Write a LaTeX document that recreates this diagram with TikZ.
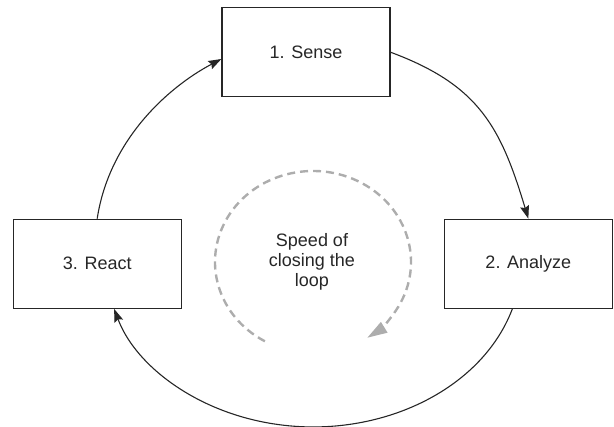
\documentclass[tikz,border=0pt]{standalone}
\usepackage{fontspec}
\setmainfont{Liberation Sans}
\usetikzlibrary{arrows.meta,calc}
\definecolor{linec}{gray}{0.15}
\definecolor{dashc}{gray}{0.68}
\begin{document}
\begin{tikzpicture}[x=1pt,y=1pt,
  box/.style={draw=linec, line width=1.2pt, minimum width=168pt, minimum height=89pt, inner sep=0pt, font=\fontsize{18}{20}\selectfont, text=linec},
  flow/.style={draw=linec, line width=1.1pt, -{Stealth[length=13pt,width=9pt,inset=1.8pt]}},
  speed/.style={draw=dashc, line width=2.4pt, dash pattern=on 8pt off 5pt, -{Triangle[length=20pt,width=12pt]}}]
\useasboundingbox (0,0) rectangle (614,427);
\node[box] (S) at (306,374.75) {1. Sense};
\node[box] (R) at (97.2,163.2) {3. React};
\node[box] (A) at (528.35,163.2) {2. Analyze};
\node[font=\fontsize{18}{20}\selectfont, align=center, text=linec, inner sep=0pt] (T) at (312,165.3) {Speed of\\closing the\\loop};
\coordinate (O) at (313,165);
\draw[speed] ([shift={(O)}]240.6:98pt and 91pt) arc[start angle=240.6, end angle=-56.4, x radius=98pt, y radius=91pt];
\draw[flow] (S.east) .. controls +(89,-33) and +(-27.5,91) .. (A.north);
\draw[flow] ([xshift=-16pt]A.south) arc[start angle=-16.8, end angle=-163.2, x radius=208pt, y radius=166pt];
\draw[flow] (R.north) .. controls +(12,79) and +(-53,-28) .. ([yshift=-6.75pt]S.west);
\end{tikzpicture}
\end{document}
